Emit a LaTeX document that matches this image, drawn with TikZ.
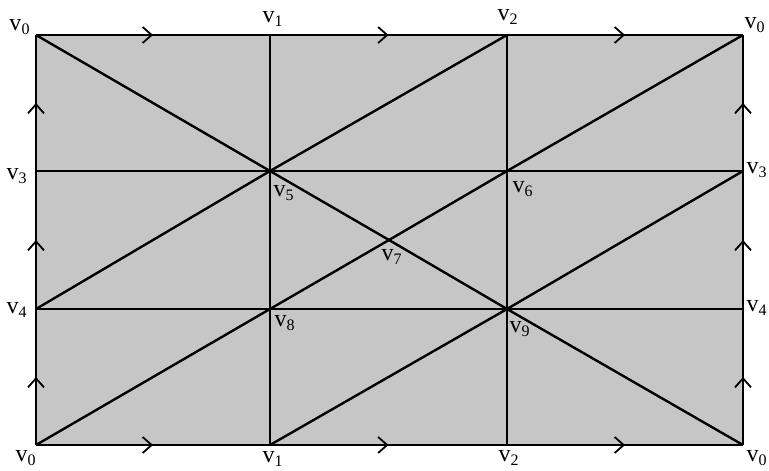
\documentclass[tikz,border=0pt]{standalone}
\usepackage{fontspec}
\setmainfont{Liberation Serif}
\usetikzlibrary{arrows.meta,decorations.markings,positioning}

\begin{document}
\begin{tikzpicture}[
    x=0.5pt, y=-0.5pt,
    edge/.style={line width=1.2pt},
    midarrow/.style={postaction={decorate, decoration={markings, mark=at position 0.5 with {\arrow[line width=0.9pt]{Straight Barb[length=4.5pt,width=8pt]}}}}},
    vlabel/.style={inner sep=0pt, font=\fontsize{12}{14}\selectfont}
]
\useasboundingbox (0,0) rectangle (769,470);

% Corners and boundary vertices
\coordinate (tl) at (36,35);
\coordinate (tr) at (743,35);
\coordinate (bl) at (36,445);
\coordinate (br) at (743,445);
\coordinate (t1) at (270,35);
\coordinate (t2) at (507,35);
\coordinate (b1) at (270,445);
\coordinate (b2) at (507,445);
\coordinate (l3) at (36,171);
\coordinate (l4) at (36,309);
\coordinate (r3) at (743,171);
\coordinate (r4) at (743,309);

% Inner vertices
\coordinate (v5) at (270,171);
\coordinate (v6) at (507,171);
\coordinate (v7) at (389,240);
\coordinate (v8) at (270,309);
\coordinate (v9) at (507,309);

\fill[gray!45] (tl) rectangle (br);

% Boundary with identifications
\draw[edge, midarrow] (tl) -- (t1);
\draw[edge, midarrow] (t1) -- (t2);
\draw[edge, midarrow] (t2) -- (tr);
\draw[edge, midarrow] (bl) -- (b1);
\draw[edge, midarrow] (b1) -- (b2);
\draw[edge, midarrow] (b2) -- (br);
\draw[edge, midarrow] (bl) -- (l4);
\draw[edge, midarrow] (l4) -- (l3);
\draw[edge, midarrow] (l3) -- (tl);
\draw[edge, midarrow] (br) -- (r4);
\draw[edge, midarrow] (r4) -- (r3);
\draw[edge, midarrow] (r3) -- (tr);

% Inner edges
\draw[edge] (t1) -- (b1);
\draw[edge] (t2) -- (b2);
\draw[edge] (l3) -- (r3);
\draw[edge] (l4) -- (r4);
\draw[edge] (tl) -- (v5) -- (v7) -- (v9) -- (br);
\draw[edge] (bl) -- (v8) -- (v7) -- (v6) -- (tr);
\draw[edge] (l4) -- (v5) -- (t2);
\draw[edge] (b1) -- (v9) -- (r3);

% Labels
\node[vlabel] (ltl) at (20,27) {v\textsubscript{0}};
\node[vlabel] (lt1) at (273,19) {v\textsubscript{1}};
\node[vlabel] (lt2) at (508,17) {v\textsubscript{2}};
\node[vlabel] (ltr) at (755,25) {v\textsubscript{0}};
\node[vlabel] (ll3) at (17,176) {v\textsubscript{3}};
\node[vlabel] (lr3) at (757,170) {v\textsubscript{3}};
\node[vlabel] (ll4) at (17,310) {v\textsubscript{4}};
\node[vlabel] (lr4) at (757,308) {v\textsubscript{4}};
\node[vlabel] (lv5) at (284,193) {v\textsubscript{5}};
\node[vlabel] (lv6) at (523,189) {v\textsubscript{6}};
\node[vlabel] (lv7) at (392,257) {v\textsubscript{7}};
\node[vlabel] (lv8) at (285,323) {v\textsubscript{8}};
\node[vlabel] (lv9) at (520,329) {v\textsubscript{9}};
\node[vlabel] (lbl) at (26,458) {v\textsubscript{0}};
\node[vlabel] (lb1) at (273,459) {v\textsubscript{1}};
\node[vlabel] (lb2) at (509,458) {v\textsubscript{2}};
\node[vlabel] (lbr) at (757,458) {v\textsubscript{0}};

\end{tikzpicture}
\end{document}
